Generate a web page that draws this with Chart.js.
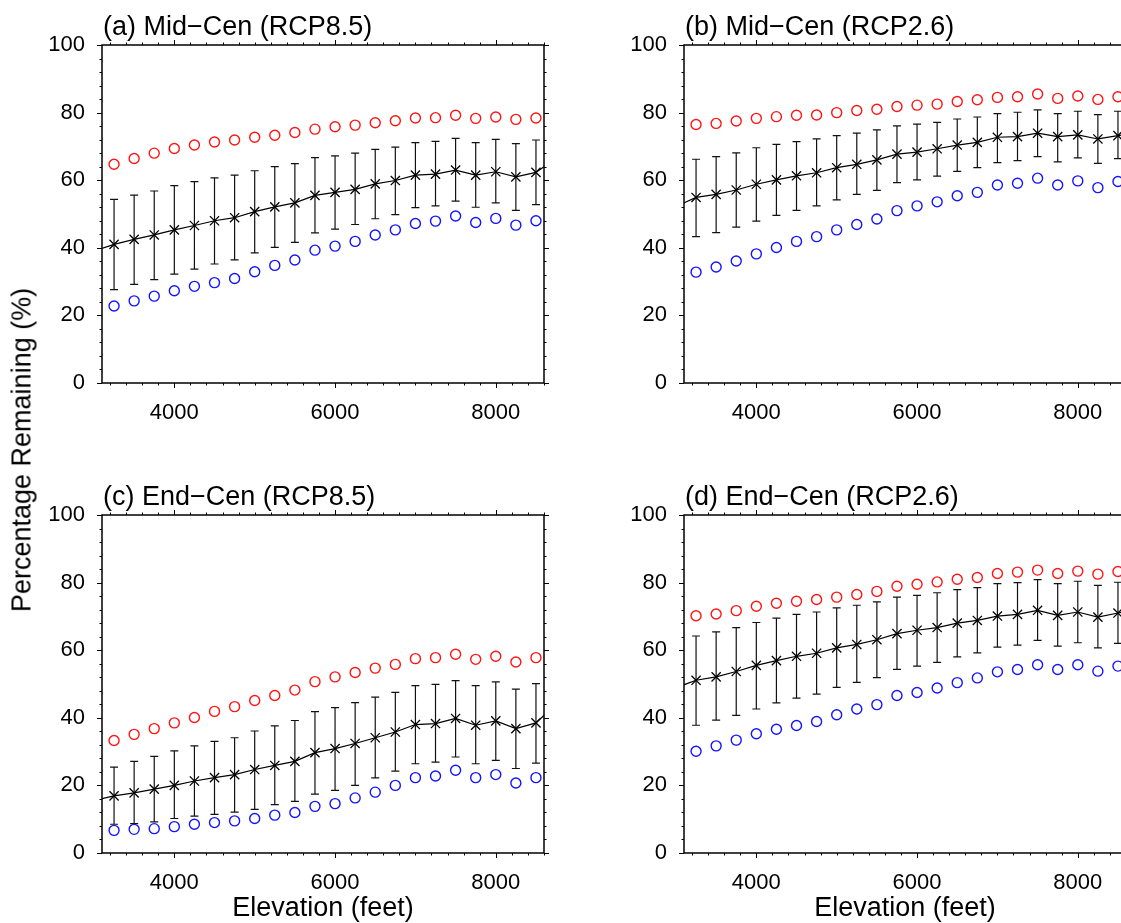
<!DOCTYPE html>
<html>
<head>
<meta charset="utf-8">
<script src="https://cdn.jsdelivr.net/npm/chart.js@4.4.1/dist/chart.umd.min.js"></script>
<style>
  html, body { margin: 0; padding: 0; background: #fff; overflow: hidden; width: 1121px; height: 923px; }
  .panel { position: absolute; width: 582px; height: 470px; }
  #ytitle {
    position: absolute; left: 22px; top: 450px;
    transform: translate(-50%, -50%) rotate(-90deg);
    font: 27px "Liberation Sans", Arial, sans-serif; white-space: nowrap; color: #000;
  }
</style>
</head>
<body>
<div class="panel" style="left:0;top:0"><canvas id="pa" width="582" height="470"></canvas></div>
<div class="panel" style="left:582px;top:0"><canvas id="pb" width="582" height="470"></canvas></div>
<div class="panel" style="left:0;top:470px"><canvas id="pc" width="582" height="470"></canvas></div>
<div class="panel" style="left:582px;top:470px"><canvas id="pd" width="582" height="470"></canvas></div>
<div id="ytitle">Percentage Remaining (%)</div>

<script>
// elevation bins (feet)
const elevation = [3250, 3500, 3750, 4000, 4250, 4500, 4750, 5000, 5250, 5500, 5750,
                   6000, 6250, 6500, 6750, 7000, 7250, 7500, 7750, 8000, 8250, 8500];
// the mean line runs on past the frame at both ends
const edgeElevation = [3000, 8750];

const xTicks = [4000, 6000, 8000];
const yTicks = [0, 20, 40, 60, 80, 100];

// (a) Mid-Cen RCP8.5
const redA   = [64.7, 66.4, 68.0, 69.4, 70.4, 71.3, 71.9, 72.7, 73.3, 74.1, 75.1, 75.8, 76.3, 77.0, 77.6, 78.4, 78.5, 79.2, 78.3, 78.7, 78.0, 78.4];
const meanA  = [41.0, 42.5, 43.8, 45.3, 46.6, 48.0, 48.9, 50.7, 52.1, 53.3, 55.5, 56.4, 57.3, 58.9, 59.9, 61.5, 61.8, 63.0, 61.5, 62.5, 61.0, 62.3];
const upperA = [54.3, 55.6, 56.8, 58.4, 59.6, 60.7, 61.5, 62.8, 64.0, 64.9, 66.7, 67.2, 68.0, 69.1, 69.8, 71.1, 71.5, 72.4, 71.1, 72.1, 70.8, 71.9];
const lowerA = [27.6, 29.2, 30.6, 32.2, 33.7, 35.2, 36.4, 38.5, 40.1, 41.6, 44.4, 45.5, 46.9, 48.6, 49.8, 51.9, 52.4, 53.8, 52.0, 53.3, 51.1, 52.8];
const blueA  = [22.8, 24.3, 25.7, 27.3, 28.6, 29.7, 30.9, 32.9, 34.8, 36.4, 39.3, 40.5, 41.9, 43.8, 45.3, 47.2, 47.9, 49.4, 47.5, 48.7, 46.7, 48.0];
const edgeA  = [39.0, 66.5];

// (b) Mid-Cen RCP2.6
const redB   = [76.5, 76.8, 77.5, 78.3, 78.8, 79.2, 79.3, 80.0, 80.6, 81.0, 81.8, 82.2, 82.5, 83.3, 83.8, 84.5, 84.7, 85.5, 84.2, 84.9, 83.9, 84.7];
const meanB  = [54.9, 55.8, 57.1, 58.8, 60.1, 61.3, 62.2, 63.7, 64.7, 66.0, 67.7, 68.3, 69.3, 70.4, 71.2, 72.7, 72.9, 73.9, 72.9, 73.4, 72.2, 73.2];
const upperB = [66.2, 67.0, 68.1, 69.6, 70.6, 71.4, 72.2, 73.2, 73.9, 74.9, 76.1, 76.6, 77.1, 78.1, 78.7, 79.7, 80.1, 80.8, 79.7, 80.4, 79.4, 80.4];
const lowerB = [43.3, 44.5, 46.1, 47.9, 49.6, 51.1, 52.4, 54.2, 55.8, 57.0, 59.3, 60.1, 61.2, 62.6, 63.7, 65.2, 65.8, 67.0, 65.4, 66.6, 65.0, 66.4];
const blueB  = [32.8, 34.3, 36.1, 38.2, 40.1, 41.9, 43.3, 45.3, 46.9, 48.5, 51.0, 52.4, 53.6, 55.4, 56.4, 58.6, 59.1, 60.6, 58.6, 59.8, 57.8, 59.6];
const edgeB  = [52.2, 74.0];

// (c) End-Cen RCP8.5
const redC   = [33.3, 35.1, 36.8, 38.5, 40.1, 41.9, 43.3, 45.1, 46.6, 48.2, 50.7, 52.1, 53.4, 54.7, 55.8, 57.5, 57.8, 58.8, 57.3, 58.2, 56.5, 57.8];
const meanC  = [16.9, 17.8, 18.9, 20.0, 21.3, 22.3, 23.2, 24.7, 25.9, 27.1, 29.7, 30.9, 32.4, 34.1, 35.8, 38.0, 38.3, 39.8, 37.8, 39.1, 36.8, 38.5];
const upperC = [25.4, 27.1, 28.6, 30.2, 31.7, 33.0, 34.1, 36.1, 37.6, 39.2, 41.8, 43.0, 44.5, 46.1, 47.5, 49.5, 49.9, 51.0, 49.5, 50.6, 48.5, 50.1];
const lowerC = [8.5, 8.7, 9.2, 10.2, 10.9, 11.4, 12.1, 12.9, 14.3, 15.3, 17.4, 18.5, 20.0, 22.2, 24.2, 26.4, 26.9, 28.4, 26.4, 27.4, 25.0, 26.6];
const blueC  = [6.7, 7.0, 7.2, 7.8, 8.5, 9.0, 9.5, 10.2, 11.2, 12.0, 13.8, 14.6, 16.3, 18.0, 20.0, 22.3, 22.8, 24.5, 22.3, 23.2, 20.7, 22.3];
const edgeC  = [15.6, 44.0];

// (d) End-Cen RCP2.6
const redD   = [70.2, 70.7, 71.7, 73.0, 73.9, 74.5, 75.0, 75.7, 76.5, 77.4, 78.9, 79.5, 80.2, 81.0, 81.5, 82.7, 83.1, 83.7, 82.7, 83.4, 82.5, 83.3];
const meanD  = [51.1, 52.1, 53.7, 55.5, 56.9, 58.2, 59.1, 60.7, 61.7, 63.1, 64.9, 65.9, 66.7, 68.0, 68.8, 70.1, 70.6, 71.8, 70.3, 71.3, 69.8, 71.0];
const upperD = [64.2, 65.4, 66.7, 68.2, 69.5, 70.6, 71.3, 72.5, 73.3, 74.3, 75.7, 76.2, 77.0, 77.9, 78.5, 79.7, 80.0, 80.9, 79.7, 80.4, 79.2, 80.1];
const lowerD = [37.8, 39.3, 40.7, 42.6, 44.4, 45.8, 47.0, 49.0, 50.5, 51.9, 54.3, 55.3, 56.4, 58.0, 59.2, 60.9, 61.5, 62.9, 61.2, 62.2, 60.7, 62.0];
const blueD  = [30.1, 31.7, 33.4, 35.3, 36.6, 37.7, 38.9, 40.9, 42.6, 43.9, 46.6, 47.5, 48.8, 50.4, 51.8, 53.6, 54.3, 55.7, 54.3, 55.7, 53.8, 55.3];
const edgeD  = [48.9, 72.0];

const FONT = '"Liberation Sans", Arial, Helvetica, sans-serif';

function makePanel(id, title, red, mean, upper, lower, blue, edge, showXTitle) {
    const pts = arr => arr.map((v, i) => ({ x: elevation[i], y: v }));
    const linePts = [{ x: edgeElevation[0], y: edge[0] }]
        .concat(pts(mean), [{ x: edgeElevation[1], y: edge[1] }]);

    // error bars, frame, minor ticks and panel title
    const panelPlugin = {
        id: 'panel',
        beforeDatasetsDraw(chart) {
            const { ctx, scales: { x, y } } = chart;
            ctx.save();
            ctx.strokeStyle = '#111';
            ctx.lineWidth = 1.2;
            ctx.beginPath();
            elevation.forEach((e, i) => {
                const px = x.getPixelForValue(e);
                const yl = y.getPixelForValue(lower[i]);
                const yh = y.getPixelForValue(upper[i]);
                ctx.moveTo(px, yl); ctx.lineTo(px, yh);
                ctx.moveTo(px - 4, yl); ctx.lineTo(px + 4, yl);
                ctx.moveTo(px - 4, yh); ctx.lineTo(px + 4, yh);
            });
            ctx.stroke();
            ctx.restore();
        },
        afterDatasetsDraw(chart) {
            const { ctx, chartArea: a, scales: { x, y } } = chart;
            ctx.save();
            ctx.strokeStyle = '#000';
            ctx.lineWidth = 1.5;
            ctx.strokeRect(a.left, a.top, a.right - a.left, a.bottom - a.top);

            ctx.lineWidth = 1;
            ctx.beginPath();
            for (let v = 3200; v <= 8600; v += 200) {
                const px = Math.round(x.getPixelForValue(v)) + 0.5;
                const len = xTicks.includes(v) ? 5 : 2.5;
                ctx.moveTo(px, a.bottom); ctx.lineTo(px, a.bottom + len);
                ctx.moveTo(px, a.top); ctx.lineTo(px, a.top - len);
            }
            for (let v = 0; v <= 100; v += 4) {
                const py = Math.round(y.getPixelForValue(v)) + 0.5;
                const len = yTicks.includes(v) ? 5 : 2.5;
                ctx.moveTo(a.left, py); ctx.lineTo(a.left - len, py);
                ctx.moveTo(a.right, py); ctx.lineTo(a.right + len, py);
            }
            ctx.stroke();

            ctx.fillStyle = '#000';
            ctx.font = '27px ' + FONT;
            ctx.textBaseline = 'alphabetic';
            ctx.textAlign = 'left';
            ctx.fillText(title, a.left + 1, a.top - 10);
            ctx.restore();
        }
    };

    new Chart(document.getElementById(id), {
        type: 'line',
        data: {
            datasets: [
                { data: linePts, borderColor: '#000', borderWidth: 1.2, pointRadius: 0, fill: false },
                { data: pts(mean), showLine: false, pointStyle: 'crossRot', pointRadius: 6.5,
                  borderColor: '#000', borderWidth: 1.3 },
                { data: pts(red), showLine: false, pointStyle: 'circle', pointRadius: 5,
                  borderColor: '#ff1414', backgroundColor: 'rgba(0,0,0,0)', borderWidth: 1.4 },
                { data: pts(blue), showLine: false, pointStyle: 'circle', pointRadius: 5,
                  borderColor: '#1414ff', backgroundColor: 'rgba(0,0,0,0)', borderWidth: 1.4 }
            ]
        },
        options: {
            responsive: false,
            animation: false,
            devicePixelRatio: 1,
            events: [],
            layout: { padding: { left: 0, top: 45, right: 38, bottom: 0 }, autoPadding: false },
            plugins: { legend: { display: false }, tooltip: { enabled: false } },
            scales: {
                x: {
                    type: 'linear', min: 3100, max: 8600,
                    grid: { display: false }, border: { display: false },
                    afterBuildTicks: s => { s.ticks = xTicks.map(v => ({ value: v })); },
                    ticks: { font: { size: 22, family: FONT }, color: '#000', padding: 9,
                             maxRotation: 0, autoSkip: false, callback: v => String(v) },
                    title: { display: showXTitle, text: 'Elevation (feet)', color: '#000',
                             font: { size: 27, family: FONT }, padding: { top: 0, bottom: 15 } },
                    afterFit: s => { s.height = 87; }
                },
                y: {
                    min: 0, max: 100,
                    grid: { display: false }, border: { display: false },
                    afterBuildTicks: s => { s.ticks = yTicks.map(v => ({ value: v })); },
                    ticks: { font: { size: 22, family: FONT }, color: '#000', padding: 9 },
                    afterFit: s => { s.width = 102; }
                }
            }
        },
        plugins: [panelPlugin]
    });
}

makePanel('pa', '(a) Mid\u2212Cen (RCP8.5)', redA, meanA, upperA, lowerA, blueA, edgeA, false);
makePanel('pb', '(b) Mid\u2212Cen (RCP2.6)', redB, meanB, upperB, lowerB, blueB, edgeB, false);
makePanel('pc', '(c) End\u2212Cen (RCP8.5)', redC, meanC, upperC, lowerC, blueC, edgeC, true);
makePanel('pd', '(d) End\u2212Cen (RCP2.6)', redD, meanD, upperD, lowerD, blueD, edgeD, true);
</script>
</body>
</html>
